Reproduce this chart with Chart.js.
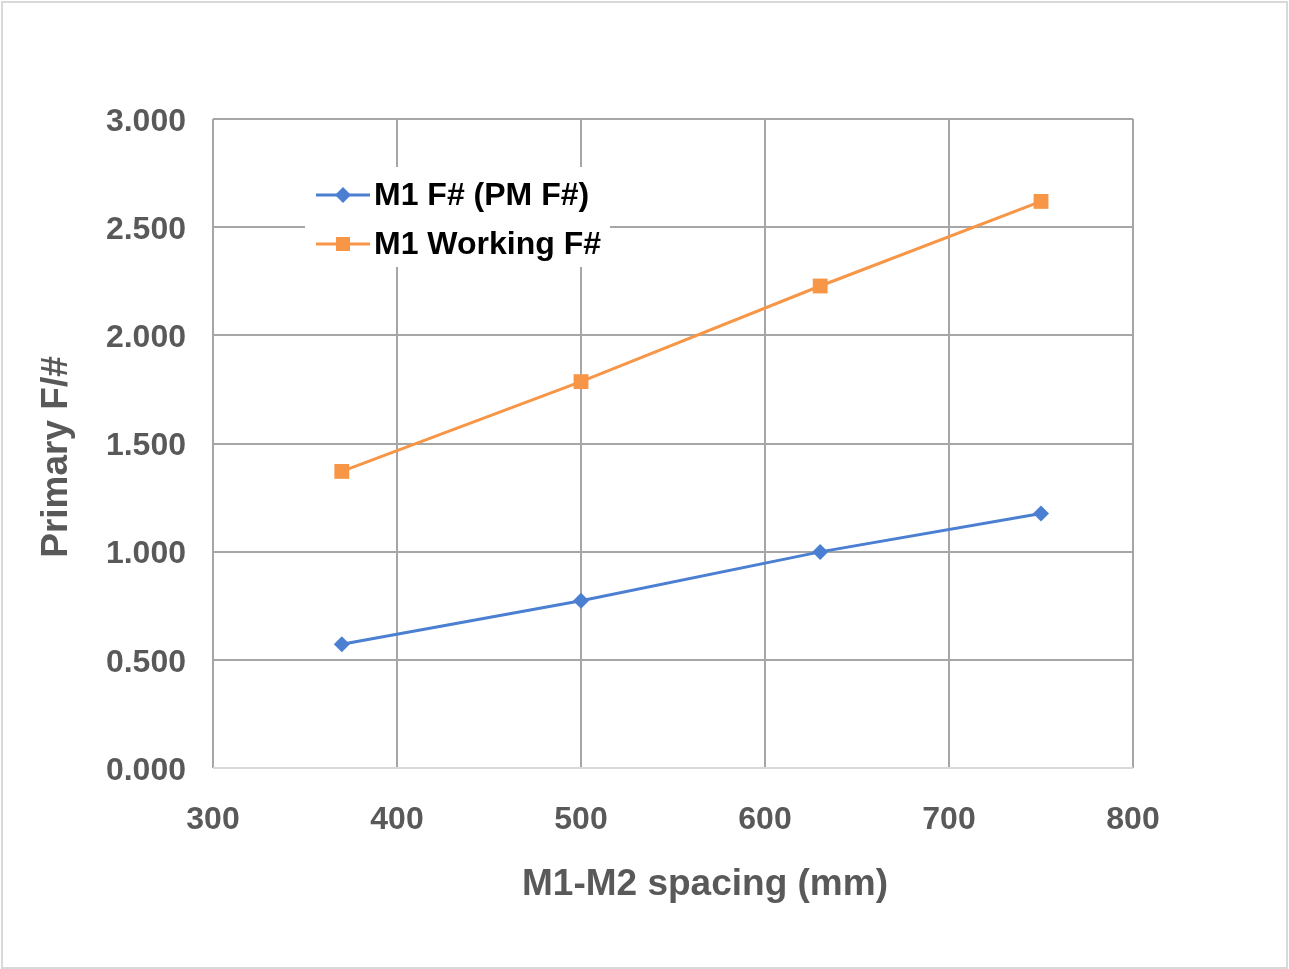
<!DOCTYPE html>
<html>
<head>
<meta charset="utf-8">
<script src="https://cdn.jsdelivr.net/npm/chart.js@4/dist/chart.umd.min.js"></script>
<style>
html,body{margin:0;padding:0;background:#fff;}
#wrap{width:1289px;height:969px;}
</style>
</head>
<body>
<div id="wrap"><canvas id="chart" width="1289" height="969"></canvas></div>
<script>
// data
const spacing=[370,500,630,750];
const pmF=[0.572,0.773,0.999,1.176];
const workingF=[1.371,1.786,2.228,2.619];
const seriesNames=['M1 F# (PM F#)','M1 Working F#'];
const xTitle='M1-M2 spacing (mm)';
const yTitle='Primary F/#';

const BLUE='#4b7fd1',ORANGE='#f79646';
const GRID='#a6a6a6',TXT='#595959';
const FONT='"Liberation Sans", Arial, sans-serif';

const toPts=(xs,ys)=>xs.map((x,i)=>({x:x,y:ys[i]}));

// legend inside the plot (white box behind it), axis titles, outer frame
const extras={
  id:'extras',
  afterDraw(chart){
    const c=chart.ctx;
    c.save();
    c.fillStyle='#fff';
    c.fillRect(305,167,305,100);
    const rows=[195,244];
    chart.data.datasets.forEach((ds,i)=>{
      const y=rows[i];
      c.strokeStyle=ds.borderColor;
      c.lineWidth=3;
      c.beginPath();c.moveTo(316,y);c.lineTo(370,y);c.stroke();
      c.fillStyle=ds.backgroundColor;
      c.beginPath();
      if(ds.pointStyle==='rectRot'){
        c.moveTo(343,y-8);c.lineTo(351,y);c.lineTo(343,y+8);c.lineTo(335,y);c.closePath();
      }else{
        c.rect(336,y-7,14,14);
      }
      c.fill();
      c.fillStyle='#000';
      c.font='bold 32px '+FONT;
      c.textBaseline='middle';
      c.textAlign='left';
      c.fillText(ds.label,374,y+1);
    });
    // axis titles
    c.fillStyle=TXT;
    c.font='bold 37px '+FONT;
    c.textAlign='center';
    c.textBaseline='middle';
    c.fillText(xTitle,705,885);
    c.translate(57,457);
    c.rotate(-Math.PI/2);
    c.fillText(yTitle,0,0);
    c.setTransform(1,0,0,1,0,0);
    // outer frame
    c.strokeStyle='#d9d9d9';
    c.lineWidth=2;
    c.strokeRect(2,2,1285,966);
    c.restore();
  }
};

new Chart(document.getElementById('chart'),{
  type:'line',
  data:{
    datasets:[
      {label:seriesNames[0],data:toPts(spacing,pmF),borderColor:BLUE,backgroundColor:BLUE,
       borderWidth:3,pointStyle:'rectRot',pointRadius:8,pointHoverRadius:8,pointBorderWidth:0,tension:0},
      {label:seriesNames[1],data:toPts(spacing,workingF),borderColor:ORANGE,backgroundColor:ORANGE,
       borderWidth:3,pointStyle:'rect',pointRadius:10.5,pointHoverRadius:10.5,pointBorderWidth:0,tension:0}
    ]
  },
  options:{
    responsive:false,
    animation:false,
    devicePixelRatio:1,
    layout:{padding:{left:0,top:119,right:156,bottom:0}},
    plugins:{legend:{display:false},tooltip:{enabled:false}},
    scales:{
      x:{
        type:'linear',min:300,max:800,
        ticks:{stepSize:100,color:TXT,font:{family:FONT,size:32,weight:'bold'},padding:33},
        grid:{color:GRID,lineWidth:2,drawTicks:false},
        border:{display:false},
        afterFit(s){s.height=201;}
      },
      y:{
        min:0,max:3,
        ticks:{stepSize:0.5,color:TXT,font:{family:FONT,size:32,weight:'bold'},padding:27,labelOffset:3,
               callback:v=>v.toFixed(3)},
        grid:{color:ctx=>ctx.tick&&ctx.tick.value===0?'#d9d9d9':GRID,lineWidth:2,drawTicks:false},
        border:{display:false},
        afterFit(s){s.width=213;}
      }
    }
  },
  plugins:[extras]
});
</script>
</body>
</html>
